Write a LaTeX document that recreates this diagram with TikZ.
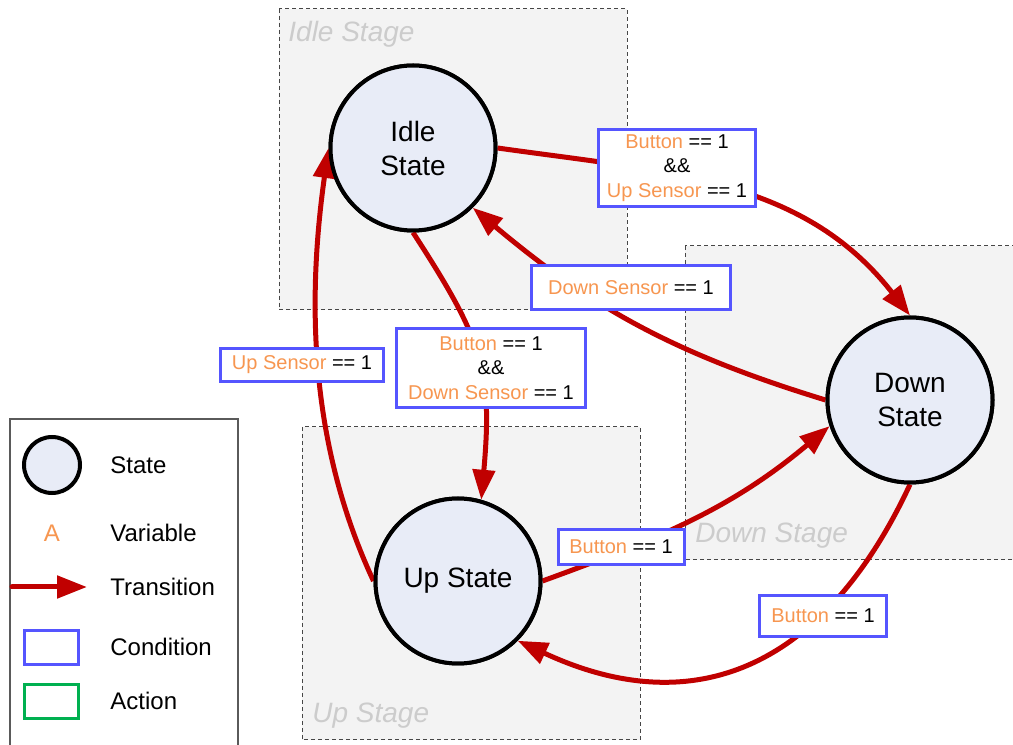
\documentclass[tikz,border=0pt]{standalone}
\usepackage{fontspec}
\setmainfont{Liberation Sans}
\usetikzlibrary{arrows.meta}
\definecolor{arrowred}{RGB}{192,0,0}
\definecolor{statefill}{RGB}{232,236,247}
\definecolor{condblue}{RGB}{85,85,255}
\definecolor{actgreen}{RGB}{0,176,80}
\definecolor{varorange}{RGB}{247,150,80}
\definecolor{stagefill}{RGB}{243,243,243}
\definecolor{stagetext}{RGB}{204,204,204}
\definecolor{stageline}{RGB}{70,70,70}
\definecolor{legendline}{RGB}{90,90,90}
\newcommand{\var}[1]{\textcolor{varorange}{#1}}
\begin{document}
\begin{tikzpicture}[x=0.5pt,y=0.5pt,
  stagebox/.style={draw=stageline, fill=stagefill, line width=0.5pt, dash pattern=on 2pt off 1.5pt},
  stagelabel/.style={anchor=west, inner sep=0, text=stagetext, font=\fontsize{14pt}{17pt}\selectfont\itshape},
  statenode/.style={circle, draw=black, line width=2pt, fill=statefill, minimum size=82.5pt, inner sep=0, align=center, font=\fontsize{14pt}{17pt}\selectfont},
  cond/.style={draw=condblue, line width=1.5pt, fill=white, inner sep=0, align=center, font=\fontsize{10pt}{12.25pt}\selectfont},
  trans/.style={draw=arrowred, line width=2.5pt, -{Triangle[length=15pt,width=11pt]}},
  legtext/.style={anchor=west, inner sep=0, font=\fontsize{12pt}{14pt}\selectfont}
]
\clip (0,0) rectangle (1013,745);
\useasboundingbox (0,0) rectangle (1013,745);

% stages
\draw[stagebox] (279,736) rectangle (627,435);
\node[stagelabel] (idlestagelbl) at (288,711) {Idle Stage};
\draw[stagebox] (685,499) rectangle (1030,185);
\node[stagelabel] (downstagelbl) at (695,209) {Down Stage};
\draw[stagebox] (302,318) rectangle (640,5);
\node[stagelabel] (upstagelbl) at (312,29) {Up Stage};

% states
\node[statenode] (idle) at (413,597) {Idle\\State};
\node[statenode] (down) at (910,345) {Down\\State};
\node[statenode] (up) at (458,164) {Up State};

% transitions
\draw[trans] (idle.east) to[out=-8, in=128] (down.north);
\draw[trans] (down.west) to[out=163, in=-40] (idle.-45);
\draw[trans] (idle.south) to[out=-57, in=85, looseness=1.2] (up.74);
\draw[trans] (up.west) to[out=115, in=-98, looseness=0.9] (idle.west);
\draw[trans] (up.east) to[out=20, in=-140] (down.198);
\draw[trans] (down.south) to[out=-115, in=-25, looseness=1.2] (up.-45);

% redraw states on top of arrow starts
\node[statenode] at (idle) {Idle\\State};
\node[statenode] at (down) {Down\\State};
\node[statenode] at (up) {Up State};

% conditions
\node[cond, minimum width=78.5pt, minimum height=38.5pt] (c1) at (677,577) {\var{Button} == 1\\\&\&\\\var{Up Sensor} == 1};
\node[cond, minimum width=99.5pt, minimum height=22pt] (c2) at (631,457.5) {\var{Down Sensor} == 1};
\node[cond, minimum width=81.5pt, minimum height=16.5pt] (c3) at (302,380) {\var{Up Sensor} == 1};
\node[cond, minimum width=94.5pt, minimum height=39.5pt] (c4) at (491,377) {\var{Button} == 1\\\&\&\\\var{Down Sensor} == 1};
\node[cond, minimum width=63pt, minimum height=17.5pt] (c5) at (621,198) {\var{Button} == 1};
\node[cond, minimum width=63.5pt, minimum height=20.5pt] (c6) at (823,129) {\var{Button} == 1};

% legend
\draw[draw=legendline, line width=0.6pt, fill=white] (10,326) rectangle (238,-15);
\node[circle, draw=black, line width=2pt, fill=statefill, minimum size=28pt, inner sep=0] (lstate) at (52,280) {};
\node[legtext] (lstatet) at (110,280) {State};
\node[inner sep=0, text=varorange, font=\fontsize{12pt}{14pt}\selectfont] (lvar) at (52,212) {A};
\node[legtext] (lvart) at (110,212) {Variable};
\coordinate (la) at (12,158);
\coordinate (lb) at (87,158);
\draw[trans, line cap=round] (la) -- (lb);
\node[legtext] (ltranst) at (110,158) {Transition};
\node[draw=condblue, line width=1.5pt, minimum width=27pt, minimum height=17pt, inner sep=0] (lcond) at (51.5,97.5) {};
\node[legtext] (lcondt) at (110,98) {Condition};
\node[draw=actgreen, line width=1.5pt, minimum width=27pt, minimum height=17pt, inner sep=0] (lact) at (51.5,43.5) {};
\node[legtext] (lactt) at (110,44) {Action};
\end{tikzpicture}
\end{document}
